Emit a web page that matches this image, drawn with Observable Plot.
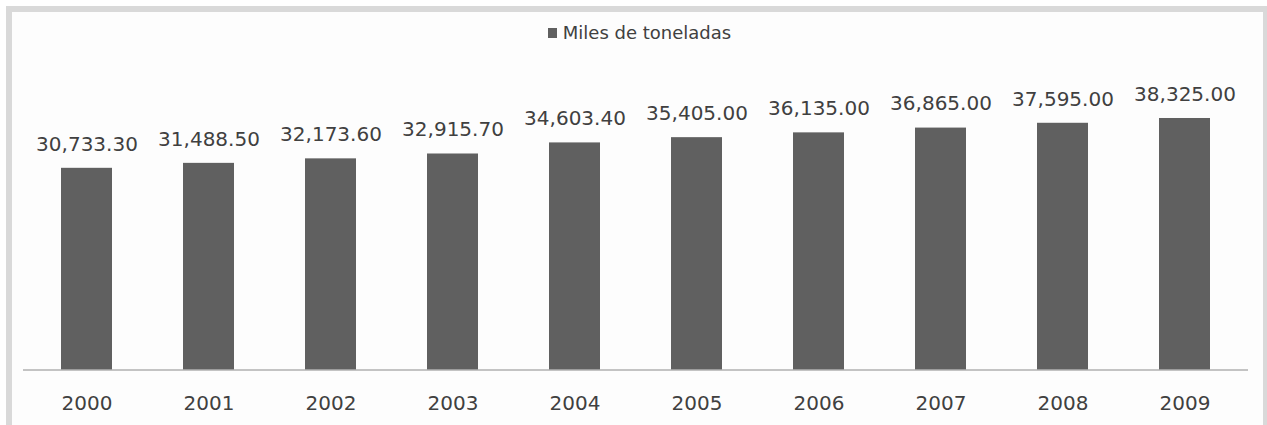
<!DOCTYPE html>
<html>
<head>
<meta charset="utf-8">
<script src="https://cdn.jsdelivr.net/npm/d3@7"></script>
<script src="https://cdn.jsdelivr.net/npm/@observablehq/plot@0.6"></script>
<style>
  html, body { margin: 0; padding: 0; background: #ffffff; overflow: hidden; }
  #frame {
    position: absolute; left: 6px; top: 6px;
    width: 1251px; height: 440px;
    border: 6px solid #d9d9d9;
    background: #fdfdfd;
  }
  #legend {
    height: 42px; line-height: 42px;
    font-family: "DejaVu Sans", sans-serif; font-size: 18px; color: #404040;
    display: flex; justify-content: center; align-items: center; gap: 6px;
    padding-left: 4px;
  }
  #legend .sw { width: 9px; height: 10px; background: #606060; display: inline-block; }
  #chart svg { display: block; }
</style>
</head>
<body>
<div id="frame">
  <div id="legend"><span class="sw"></span><span id="legendText"></span></div>
  <div id="chart"></div>
</div>
<script>
const years = ["2000","2001","2002","2003","2004","2005","2006","2007","2008","2009"];
const values = [30733.3, 31488.5, 32173.6, 32915.7, 34603.4, 35405.0, 36135.0, 36865.0, 37595.0, 38325.0];
const seriesName = "Miles de toneladas";

document.getElementById("legendText").textContent = seriesName;

const data = years.map((y, i) => ({year: y, value: values[i]}));
const fmt = d3.format(",.2f");

const chart = Plot.plot({
  width: 1251,
  height: 371,
  marginLeft: 11,
  marginRight: 15,
  marginTop: 53,
  marginBottom: 55.5,
  style: {background: "transparent", fontFamily: "DejaVu Sans, sans-serif", color: "#404040"},
  x: {domain: years, paddingInner: 0.584, paddingOuter: 0.292, label: null},
  y: {domain: [0, 40000], axis: null},
  marks: [
    Plot.barY(data, {x: "year", y: "value", fill: "#606060"}),
    Plot.ruleY([0], {stroke: "#8a8a8a", strokeWidth: 1}),
    Plot.text(data, {x: "year", y: "value", text: d => fmt(d.value), dy: -24, lineAnchor: "middle", fontSize: 20, fill: "#404040"}),
    Plot.axisX({tickSize: 0, tickPadding: 26, fontSize: 20, fill: "#404040", label: null})
  ]
});
document.getElementById("chart").appendChild(chart);
</script>
</body>
</html>
